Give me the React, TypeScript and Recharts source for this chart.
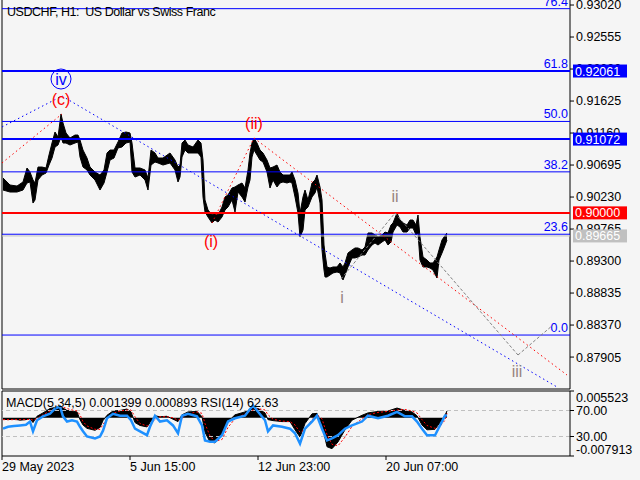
import React from 'react';
import {
  ComposedChart,
  Area,
  Line,
  XAxis,
  YAxis,
  ReferenceLine,
  ReferenceDot
} from 'recharts';

const FONT = '"Liberation Sans", Arial, sans-serif';
const BLUE = '#0000ff';
const WAVE_GREY = '#978480';

// H1 bars: [bar index, high, low]
const hourlyBars: [number, number, number][] = [
  [1, 0.90507, 0.90332], [8, 0.90405, 0.90303], [15, 0.9039, 0.90303], [21, 0.90449, 0.90332],
  [25, 0.90652, 0.90434], [28, 0.90594, 0.90449], [31, 0.90478, 0.90143], [33, 0.90434, 0.90187],
  [36, 0.90666, 0.90478], [40, 0.90666, 0.9055], [44, 0.90652, 0.90579], [47, 0.90841, 0.90695],
  [50, 0.91015, 0.90797], [53, 0.91175, 0.90957], [56, 0.91102, 0.90986], [59, 0.91437, 0.91102],
  [61, 0.91306, 0.91015], [64, 0.91161, 0.91015], [68, 0.91088, 0.90986], [73, 0.91131, 0.91015],
  [76, 0.91131, 0.9103], [78, 0.91059, 0.90812], [81, 0.90913, 0.90666], [85, 0.90797, 0.90623],
  [88, 0.90666, 0.9055], [93, 0.90594, 0.90478], [98, 0.9055, 0.90332], [102, 0.90623, 0.90434],
  [105, 0.9087, 0.90594], [108, 0.90913, 0.90768], [112, 0.90913, 0.90797], [116, 0.9103, 0.90943],
  [120, 0.91161, 0.90957], [124, 0.91175, 0.91015], [128, 0.91161, 0.9103], [130, 0.91015, 0.90594],
  [133, 0.90652, 0.90521], [138, 0.90652, 0.9055], [143, 0.90623, 0.90478], [146, 0.90507, 0.90332],
  [149, 0.90913, 0.90695], [153, 0.9087, 0.90739], [156, 0.90797, 0.90725], [161, 0.90797, 0.90695],
  [168, 0.9087, 0.90725], [173, 0.90768, 0.90623], [176, 0.90666, 0.90449], [178, 0.90695, 0.90521],
  [180, 0.91015, 0.90812], [183, 0.91059, 0.90913], [186, 0.90986, 0.9087], [191, 0.90957, 0.9087],
  [196, 0.91059, 0.9087], [199, 0.91015, 0.90812], [201, 0.90768, 0.90231], [203, 0.90187, 0.90013],
  [206, 0.90042, 0.8994], [210, 0.89969, 0.89853], [213, 0.89998, 0.89896], [216, 0.89969, 0.89867],
  [220, 0.90085, 0.8994], [223, 0.90231, 0.90042], [226, 0.9026, 0.90085], [230, 0.90361, 0.90187],
  [233, 0.90376, 0.90013], [236, 0.90405, 0.90303], [240, 0.90434, 0.90231], [243, 0.90361, 0.90158],
  [246, 0.90623, 0.90376], [248, 0.9087, 0.90478], [250, 0.91015, 0.90812], [252, 0.91088, 0.90913],
  [255, 0.91015, 0.90841], [258, 0.90913, 0.90768], [261, 0.9087, 0.90739], [265, 0.90768, 0.90594],
  [268, 0.90652, 0.90361], [271, 0.90666, 0.90478], [275, 0.90695, 0.90376], [278, 0.90594, 0.90434],
  [281, 0.9055, 0.90449], [285, 0.9055, 0.90434], [288, 0.9055, 0.90449], [290, 0.90594, 0.90434],
  [293, 0.90478, 0.90231], [296, 0.90289, 0.89998], [298, 0.89998, 0.89649], [301, 0.90231, 0.89751],
  [303, 0.90332, 0.90042], [306, 0.90187, 0.90085], [310, 0.90434, 0.90231], [313, 0.90478, 0.90289],
  [315, 0.9055, 0.90376], [318, 0.90376, 0.90143], [320, 0.90187, 0.89461], [322, 0.89533, 0.8917],
  [323, 0.89417, 0.89068], [325, 0.89214, 0.89068], [328, 0.89199, 0.89097], [331, 0.89214, 0.89127],
  [335, 0.89214, 0.89141], [338, 0.89272, 0.89127], [341, 0.89214, 0.89025], [343, 0.89272, 0.89097],
  [346, 0.89417, 0.89214], [350, 0.89461, 0.89345], [353, 0.8949, 0.89345], [356, 0.8949, 0.89359],
  [360, 0.89461, 0.89388], [363, 0.89504, 0.89388], [366, 0.89708, 0.89461], [370, 0.89708, 0.89533],
  [373, 0.89679, 0.89563], [376, 0.89649, 0.89533], [380, 0.89679, 0.89577], [383, 0.89722, 0.89606],
  [386, 0.89708, 0.89533], [389, 0.89824, 0.89577], [391, 0.89853, 0.89722], [395, 0.89998, 0.89824],
  [398, 0.89896, 0.89795], [401, 0.89853, 0.89722], [405, 0.89824, 0.89722], [408, 0.89896, 0.8978],
  [411, 0.89896, 0.8978], [414, 0.89824, 0.89679], [416, 0.89969, 0.89708], [418, 0.89649, 0.89315],
  [421, 0.89359, 0.89214], [425, 0.89315, 0.89214], [428, 0.89272, 0.89199], [431, 0.89272, 0.8917],
  [435, 0.89359, 0.89054], [437, 0.89461, 0.89315], [440, 0.89606, 0.89417], [442, 0.89649, 0.8949],
  [445, 0.89708, 0.89606]
];

// indicator pane: [bar index, MACD, signal, RSI]
const indicatorRows: [number, number, number, number][] = [
  [1, -0.0003, -0.0004, 42], [6, -0.0004, -0.0004, 45], [12, -0.0003, -0.0004, 46], [18, -0.0005, -0.0004, 47],
  [24, -0.0004, -0.0004, 48], [28, -0.0002, -0.0003, 53], [31, -0.001, -0.0005, 38], [35, 0.0003, -0.0002, 55],
  [41, 0.001, 0.0006, 61], [48, 0.0019, 0.0014, 65], [53, 0.0021, 0.0019, 73], [58, 0.0023, 0.0021, 76],
  [61, 0.002, 0.0022, 61], [65, 0.0015, 0.0019, 53], [70, 0.0014, 0.0016, 55], [75, 0.0012, 0.0014, 53],
  [78, -0.0004, 0.0006, 45], [81, -0.0015, -0.0008, 38], [85, -0.0022, -0.0017, 30], [93, -0.0026, -0.0024, 27],
  [98, -0.002, -0.0024, 30], [101, -0.0006, -0.0014, 39], [105, 0.0005, -0.0002, 58], [111, 0.0014, 0.0009, 65],
  [118, 0.0015, 0.0014, 62], [125, 0.0018, 0.0016, 62], [129, 0.0012, 0.0016, 55], [133, -0.001, 0.0002, 42],
  [138, -0.0016, -0.0012, 38], [145, -0.0019, -0.0017, 32], [148, -0.001, -0.0015, 45], [153, 0.0004, -0.0003, 62],
  [158, 0.0002, 0.0002, 53], [165, 0.0003, 0.0002, 55], [171, -0.0003, 0, 47], [176, -0.0008, -0.0005, 35],
  [180, 0.0006, -0.0001, 62], [186, 0.0012, 0.0008, 65], [195, 0.0013, 0.0012, 61], [200, 0.0002, 0.0009, 47],
  [203, -0.003, -0.0012, 24], [208, -0.005, -0.0038, 22], [213, -0.0052, -0.0049, 22], [220, -0.0035, -0.0045, 32],
  [226, -0.0008, -0.002, 53], [233, 0.0006, -0.0002, 58], [243, 0.0012, 0.0008, 62], [251, 0.002, 0.0016, 78],
  [256, 0.0019, 0.0019, 68], [263, 0.001, 0.0016, 55], [266, -0.0004, 0.0006, 38], [271, -0.0006, -0.0003, 47],
  [280, -0.0008, -0.0007, 45], [288, -0.0008, -0.0008, 42], [293, -0.0025, -0.0015, 35], [298, -0.004, -0.003, 19],
  [303, -0.0012, -0.0025, 42], [310, 0.0008, -0.0004, 53], [315, 0.0009, 0.0006, 62], [320, -0.0015, -0.0002, 42],
  [325, -0.006, -0.0035, 24], [330, -0.0064, -0.0055, 27], [336, -0.005, -0.0058, 32], [343, -0.0025, -0.004, 42],
  [350, -0.0005, -0.0018, 47], [360, 0.0005, -0.0002, 53], [366, 0.001, 0.0006, 62], [376, 0.0013, 0.0011, 58],
  [386, 0.0014, 0.0013, 62], [395, 0.002, 0.0016, 68], [403, 0.0015, 0.0017, 61], [410, 0.0012, 0.0014, 61],
  [415, 0.0004, 0.001, 53], [420, -0.0015, -0.0004, 42], [425, -0.0025, -0.0016, 32], [433, -0.0024, -0.0022, 32],
  [438, -0.001, -0.0018, 47], [443, 0.0005, -0.0005, 62], [445, 0.0014, 0.0009, 62.63]
];

const priceTicks = [0.9302, 0.92555, 0.9209, 0.91625, 0.9116, 0.90695, 0.9023, 0.89765, 0.893, 0.88835, 0.8837, 0.87905];
const priceDomain: [number, number] = [0.87441, 0.93093];

const fibLevels = [0, 23.6, 38.2, 50.0, 61.8, 76.4];
const fibBase = 0.88225;
const fibSpan = 0.06207;

const targetLevels = [0.92061, 0.91072];
const pivotLevel = 0.9;
const lastPrice = 0.89665;

// wave paths: [bar, price] points
const blueWave: [number, number][] = [[0, 0.91248], [60, 0.91698], [555, 0.8747]];
const redWaveA: [number, number][] = [[0, 0.90725], [60, 0.91437]];
const redWaveB: [number, number][] = [[210, 0.89853], [252, 0.91088], [565, 0.87644]];
const greyWave: [number, number][] = [[339, 0.89039], [393, 0.89998], [516, 0.87935], [551, 0.88371]];

const redLabels: [string, number, number][] = [['(c)', 59, 0.91655], ['(ii)', 252, 0.91306], ['(i)', 209, 0.89591]];
const greyLabels: [string, number, number][] = [['i', 340, 0.88778], ['ii', 393, 0.90245], ['iii', 515, 0.87702]];
const circledLabel: [string, number, number] = ['iv', 59, 0.91945];

const dateTicks = [0, 128, 256, 384];
const dateLabels = ['29 May 2023', '5 Jun 15:00', '12 Jun 23:00', '20 Jun 07:00'];

const macdDomain: [number, number] = [-0.007913, 0.005523];
const rsiTicks = [100, 70, 30, 0];

const priceData = hourlyBars.map(([bar, high, low]) => ({ bar, range: [low, high] }));
const indicatorData = indicatorRows.map(([bar, macd, signal, rsi]) => ({ bar, macd, signal, rsi }));

const toSegments = (pts: [number, number][]) =>
  pts.slice(1).map((p, i) => [
    { x: pts[i][0], y: pts[i][1] },
    { x: p[0], y: p[1] }
  ]);

const FibText = ({ viewBox, text }: any) => (
  <text x={viewBox.x + viewBox.width - 2} y={viewBox.y - 3} textAnchor="end" fill={BLUE} fontSize={12.5}>
    {text}
  </text>
);

const PriceBox = ({ viewBox, text, fill }: any) => {
  const x = viewBox.x + viewBox.width + 3;
  return (
    <g>
      <rect x={x} y={viewBox.y - 6.5} width={54} height={13} fill={fill} />
      <text x={x + 2} y={viewBox.y} dy="0.36em" fill="#fff" fontSize={12.5}>{text}</text>
    </g>
  );
};

const WaveText = ({ viewBox, text, color }: any) => (
  <text
    x={viewBox.x + viewBox.width / 2}
    y={viewBox.y + viewBox.height / 2}
    dy="0.36em"
    textAnchor="middle"
    fill={color}
    fontSize={16}
  >
    {text}
  </text>
);

// right scale of the indicator pane: RSI 70/30 inside, MACD range at the pane edges
const IndicatorTick = ({ x, y, payload }: any) => {
  const v = payload.value;
  const text = v === 100 ? macdDomain[1].toFixed(6) : v === 0 ? macdDomain[0].toFixed(6) : v.toFixed(2);
  const dy = v === 100 ? '0.9em' : v === 0 ? '-0.2em' : '0.36em';
  return (
    <text x={x} y={y} dy={dy} fill="#000" fontSize={12.5}>
      {text}
    </text>
  );
};

const DateTick = ({ x, y, payload, index }: any) => (
  <text x={x} y={y} dy="0.72em" fill="#000" fontSize={12.5}>
    {dateLabels[index] ?? payload.value}
  </text>
);

export default function App() {
  return (
    <div
      style={{
        position: 'absolute',
        left: 0,
        top: 0,
        width: 640,
        height: 480,
        background: '#f5f5f5',
        overflow: 'hidden',
        fontFamily: FONT
      }}
    >
      {/* price pane: axis and bars */}
      <div style={{ position: 'absolute', top: 0, left: 0 }}>
        <ComposedChart width={640} height={390} data={priceData} margin={{ top: 0, right: 0, bottom: 1, left: 2 }}>
          <XAxis dataKey="bar" type="number" domain={[0, 568]} hide allowDataOverflow />
          <YAxis
            orientation="right"
            width={70}
            domain={priceDomain}
            ticks={priceTicks}
            interval={0}
            allowDataOverflow
            tickSize={4}
            tickMargin={2}
            tick={{ fontSize: 12.5, fill: '#000' }}
            axisLine={{ stroke: '#000' }}
            tickLine={{ stroke: '#000' }}
            tickFormatter={(v: number) => v.toFixed(5)}
          />
          <ReferenceLine x={0} stroke="#000" />
          <ReferenceLine y={priceDomain[0]} stroke="#000" />
          <Area
            dataKey="range"
            type="linear"
            stroke="#000"
            strokeWidth={1}
            fill="#000"
            fillOpacity={1}
            dot={false}
            activeDot={false}
            isAnimationActive={false}
          />
        </ComposedChart>
      </div>

      {/* price pane overlay: levels, wave count, price boxes */}
      <div style={{ position: 'absolute', top: 0, left: 0 }}>
        <ComposedChart width={640} height={390} data={priceData} margin={{ top: 0, right: 70, bottom: 1, left: 2 }}>
          <XAxis dataKey="bar" type="number" domain={[0, 568]} hide allowDataOverflow />
          <YAxis domain={priceDomain} hide allowDataOverflow />

          {fibLevels.map((lvl) => (
            <ReferenceLine
              key={lvl}
              y={fibBase + (fibSpan * lvl) / 100}
              stroke={BLUE}
              label={<FibText text={lvl.toFixed(1)} />}
            />
          ))}
          <ReferenceLine y={lastPrice} stroke="#c0c0c0" label={<PriceBox text={lastPrice.toFixed(5)} fill="#c0c0c0" />} />
          {targetLevels.map((lvl) => (
            <ReferenceLine
              key={lvl}
              y={lvl}
              stroke={BLUE}
              strokeWidth={2}
              label={<PriceBox text={lvl.toFixed(5)} fill={BLUE} />}
            />
          ))}
          <ReferenceLine y={pivotLevel} stroke="#ff0000" strokeWidth={2} label={<PriceBox text={pivotLevel.toFixed(5)} fill="#ff0000" />} />

          {toSegments(blueWave).map((s, i) => (
            <ReferenceLine key={'b' + i} segment={s} stroke={BLUE} strokeDasharray="1.5 3" />
          ))}
          {[...toSegments(redWaveA), ...toSegments(redWaveB)].map((s, i) => (
            <ReferenceLine key={'r' + i} segment={s} stroke="#ff0000" strokeDasharray="1.5 3" />
          ))}
          {toSegments(greyWave).map((s, i) => (
            <ReferenceLine key={'g' + i} segment={s} stroke="#808080" strokeDasharray="3 2" />
          ))}

          <ReferenceDot
            x={circledLabel[1]}
            y={circledLabel[2]}
            r={10}
            fill="none"
            stroke={BLUE}
            label={<WaveText text={circledLabel[0]} color={BLUE} />}
          />
          {redLabels.map(([t, x, y]) => (
            <ReferenceDot key={t} x={x} y={y} r={0} fill="none" stroke="none" label={<WaveText text={t} color="#ff0000" />} />
          ))}
          {greyLabels.map(([t, x, y]) => (
            <ReferenceDot key={t} x={x} y={y} r={0} fill="none" stroke="none" label={<WaveText text={t} color={WAVE_GREY} />} />
          ))}
        </ComposedChart>
      </div>

      {/* indicator pane */}
      <div style={{ position: 'absolute', top: 389, left: 0 }}>
        <ComposedChart width={640} height={91} data={indicatorData} margin={{ top: 2, right: 0, bottom: 0, left: 2 }}>
          <XAxis
            dataKey="bar"
            type="number"
            domain={[0, 568]}
            ticks={dateTicks}
            interval={0}
            height={24}
            tickSize={4}
            tickMargin={2}
            allowDataOverflow
            axisLine={{ stroke: '#000' }}
            tickLine={{ stroke: '#000' }}
            tick={<DateTick />}
          />
          <YAxis yAxisId="macd" hide domain={macdDomain} allowDataOverflow />
          <YAxis
            yAxisId="rsi"
            orientation="right"
            width={70}
            domain={[0, 100]}
            ticks={rsiTicks}
            interval={0}
            tickSize={4}
            tickMargin={2}
            axisLine={{ stroke: '#000' }}
            tickLine={{ stroke: '#000' }}
            tick={<IndicatorTick />}
          />
          <ReferenceLine yAxisId="rsi" y={100} stroke="#000" />
          <ReferenceLine yAxisId="rsi" x={0} stroke="#000" />
          <ReferenceLine yAxisId="rsi" y={70} stroke="#c0c0c0" strokeDasharray="4 3" />
          <ReferenceLine yAxisId="rsi" y={30} stroke="#c0c0c0" strokeDasharray="4 3" />
          <Area
            yAxisId="macd"
            dataKey="macd"
            type="linear"
            baseValue={0}
            stroke="#000"
            fill="#000"
            fillOpacity={1}
            dot={false}
            activeDot={false}
            isAnimationActive={false}
          />
          <Line
            yAxisId="macd"
            dataKey="signal"
            type="linear"
            stroke="#ff0000"
            strokeDasharray="2 2"
            dot={false}
            activeDot={false}
            isAnimationActive={false}
          />
          <Line
            yAxisId="rsi"
            dataKey="rsi"
            type="linear"
            stroke="#1e90ff"
            strokeWidth={2.5}
            dot={false}
            activeDot={false}
            isAnimationActive={false}
          />
        </ComposedChart>
      </div>

      <div style={{ position: 'absolute', left: 7, top: 5, fontSize: 12.5, lineHeight: '14px', letterSpacing: -0.45, color: '#000', whiteSpace: 'pre' }}>
        {'USDCHF, H1:  US Dollar vs Swiss Franc'}
      </div>
      <div style={{ position: 'absolute', left: 6, top: 396, fontSize: 12.5, lineHeight: '14px', color: '#000', whiteSpace: 'pre' }}>
        {'MACD(5,34,5) 0.001399 0.000893 RSI(14) 62.63'}
      </div>
    </div>
  );
}
